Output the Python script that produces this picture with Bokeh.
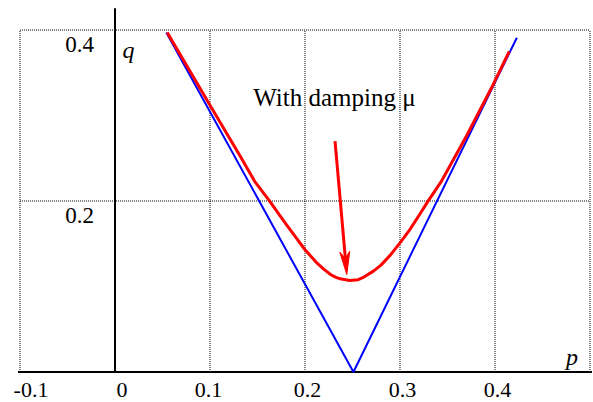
from bokeh.plotting import figure
from bokeh.models import Range1d
from bokeh.core.properties import value
from bokeh.embed import file_html
from bokeh.resources import INLINE
import math

# ---- data ----
blue_p = [0.054, 0.251, 0.423]
blue_q = [0.397, 0.000, 0.391]

red_p = [0.055, 0.100, 0.132, 0.147, 0.162, 0.180, 0.190, 0.200, 0.213, 0.220,
         0.227, 0.232, 0.237, 0.247, 0.256, 0.262, 0.272, 0.280, 0.290, 0.300,
         0.310, 0.320, 0.329, 0.343, 0.370, 0.398, 0.415]
red_q = [0.397, 0.312, 0.252, 0.223, 0.201, 0.173, 0.158, 0.143, 0.127, 0.120,
         0.114, 0.111, 0.109, 0.107, 0.108, 0.111, 0.118, 0.125, 0.137, 0.151,
         0.166, 0.183, 0.199, 0.222, 0.276, 0.336, 0.375]

x_ticks = [-0.1, 0.0, 0.1, 0.2, 0.3, 0.4]
x_tick_labels = ["-0.1", "0", "0.1", "0.2", "0.3", "0.4"]
y_ticks = [0.2, 0.4]
y_tick_labels = ["0.2", "0.4"]
grid_x = [-0.1, 0.1, 0.2, 0.3, 0.4, 0.5]
grid_y = [0.2, 0.4]

note_text = "With damping \u03bc"
note_pos = (0.231, 0.313)
arrow_start = (0.2316, 0.270)
arrow_end = (0.244, 0.114)

# ---- layout ----
W, H = 593, 402
X0 = -0.120526
X1 = X0 + W / 950.0
Y1 = 0.434503
Y0 = Y1 - H / 855.0
sx = W / (X1 - X0)
sy = H / (Y1 - Y0)

p = figure(width=W, height=H, x_range=Range1d(X0, X1), y_range=Range1d(Y0, Y1),
           x_axis_location=None, y_axis_location=None,
           toolbar_location=None, output_backend="svg", min_border=0)
p.outline_line_color = None
p.background_fill_color = "white"
p.grid.visible = False

# dotted grid box
p.segment(x0=grid_x, y0=0, x1=grid_x, y1=max(grid_y), line_color="black",
          line_width=1, line_dash="1 1")
p.segment(x0=min(grid_x), y0=grid_y, x1=max(grid_x), y1=grid_y, line_color="black",
          line_width=1, line_dash="1 1")

# axes
p.segment(x0=[-0.1021], y0=[0], x1=[0.5021], y1=[0], line_color="black", line_width=2)
p.segment(x0=[0], y0=[0], x1=[0], y1=[0.4254], line_color="black", line_width=2)

# curves
p.line(blue_p, blue_q, line_color="#0000ff", line_width=2)
p.line(red_p, red_q, line_color="#ff0000", line_width=3, line_join="round")

# arrow with narrow head
dxp = (arrow_end[0] - arrow_start[0]) * sx
dyp = (arrow_end[1] - arrow_start[1]) * sy
L = math.hypot(dxp, dyp)
ux, uy = dxp / L, dyp / L
nx, ny = -uy, ux
head_len, head_half, notch = 23.0, 5.0, 16.0
tx, ty = arrow_end
bx, by = tx - head_len * ux / sx, ty - head_len * uy / sy
ntx, nty = tx - notch * ux / sx, ty - notch * uy / sy
p.line([arrow_start[0], ntx], [arrow_start[1], nty], line_color="#ff0000", line_width=3)
p.patch([tx, bx + head_half * nx / sx, ntx, bx - head_half * nx / sx],
        [ty, by + head_half * ny / sy, nty, by - head_half * ny / sy],
        fill_color="#ff0000", line_color="#ff0000", line_width=1)

serif = value("Liberation Serif")

# x tick labels
x_label_dx = [11, 7, -1.5, 2.5, 2.5, 2.5]
p.text(x=x_ticks, y=0, text=x_tick_labels, text_font=serif, text_font_size="22px",
       text_align="center", text_baseline="alphabetic", x_offset=x_label_dx,
       y_offset=17.5, text_color="black")

# y tick labels
p.text(x=0, y=y_ticks, text=y_tick_labels, text_font=serif, text_font_size="23px",
       text_align="right", text_baseline="alphabetic", x_offset=-21, y_offset=14,
       text_color="black")

# axis names
p.text(x=[0], y=[max(grid_y)], text=["q"], text_font=serif, text_font_size="24px",
       text_font_style="italic", text_align="left", text_baseline="alphabetic",
       x_offset=7.5, y_offset=19.5, text_color="black")
p.text(x=[max(grid_x)], y=[0], text=["p"], text_font=serif, text_font_size="24px",
       text_font_style="italic", text_align="right", text_baseline="alphabetic",
       x_offset=-12, y_offset=-15.5, text_color="black")

# annotation
p.text(x=[note_pos[0]], y=[note_pos[1]], text=[note_text], text_font=serif,
       text_font_size="25px", text_align="center", text_baseline="alphabetic",
       y_offset=-7, text_color="black")

open("out.html", "w").write(file_html(p, INLINE))
